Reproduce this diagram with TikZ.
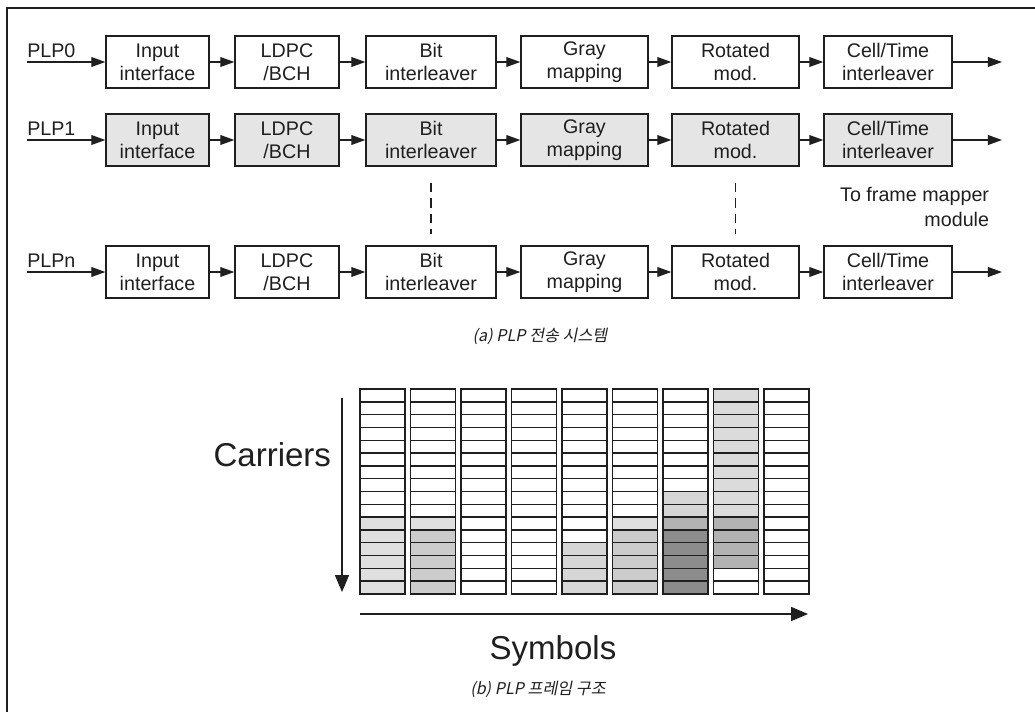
\documentclass[tikz,border=0pt]{standalone}
\usepackage{fontspec}
\setmainfont{Liberation Sans}
\newfontfamily\krfont[FakeSlant=0.2]{Noto Sans CJK KR}
\usetikzlibrary{positioning,arrows.meta}
\definecolor{ink}{gray}{0.12}

\begin{document}
\begin{tikzpicture}[x=0.025cm,y=-0.025cm,
    every node/.style={font=\fontsize{14}{16.5}\selectfont,text=ink},
    blk/.style={draw=ink,line width=0.9pt,minimum height=1.3cm,inner sep=0pt,align=center},
    flow/.style={draw=ink,line width=0.8pt,-{Triangle[length=10pt,width=7pt]}},
    axis/.style={draw=ink,line width=0.8pt,-{Triangle[length=12pt,width=10pt]}},
    cell/.style={draw=ink,line width=1pt},
    captxt/.style={font=\krfont\fontsize{11.5}{13}\selectfont}]
  \useasboundingbox (0,0) rectangle (1035,712);
  \draw[ink,line width=0.9pt] (1035,8) -- (7,8) -- (7,712);

  % PLP chains
  \foreach \r/\y/\fc in {0/62/white, 1/140/black!10, n/272/white} {
    \node[blk,fill=\fc,minimum width=2.575cm] (in\r)   at (157.5,\y) {Input\\interface};
    \node[blk,fill=\fc,minimum width=2.6cm]   (ldpc\r) at (287,\y)   {LDPC\\/BCH};
    \node[blk,fill=\fc,minimum width=3.25cm]  (bil\r)  at (431,\y)   {Bit\\interleaver};
    \node[blk,fill=\fc,minimum width=3.175cm] (gray\r) at (584.5,\y) {Gray\\mapping};
    \node[blk,fill=\fc,minimum width=3.175cm] (rot\r)  at (735.5,\y) {Rotated\\mod.};
    \node[blk,fill=\fc,minimum width=3.2cm]   (ctil\r) at (888,\y)   {Cell/Time\\interleaver};
    \coordinate (src\r) at (27,\y);
    \coordinate (out\r) at (1002,\y);
    \node[anchor=south west,inner sep=0pt] (plp\r) at (27,\y-4) {PLP\r};
    \draw[flow] (src\r) -- (in\r);
    \draw[flow] (in\r) -- (ldpc\r);
    \draw[flow] (ldpc\r) -- (bil\r);
    \draw[flow] (bil\r) -- (gray\r);
    \draw[flow] (gray\r) -- (rot\r);
    \draw[flow] (rot\r) -- (ctil\r);
    \draw[flow] (ctil\r) -- (out\r);
  }
  \draw[ink,line width=0.8pt,dash pattern=on 7pt off 4pt,shorten <=0.4cm,shorten >=0.275cm] (bil1) -- (biln);
  \draw[ink,line width=0.8pt,dash pattern=on 7pt off 4pt,shorten <=0.4cm,shorten >=0.275cm] (rot1) -- (rotn);
  \node[anchor=north east,align=right,font=\fontsize{14}{17.8}\selectfont] (tofm) at (994,182) {To frame mapper\\module};
  \node[captxt] (capa) at (540,336) {(a) PLP 전송 시스템};

  % frame structure
  \foreach \c/\from/\to/\lv in {0/10/15/12, 1/10/10/12, 1/11/15/20, 4/12/15/16, 5/10/10/12, 5/11/15/20,
      6/8/9/16, 6/10/10/30, 6/11/15/45, 7/0/9/14, 7/10/13/30}
    \fill[black!\lv] (360+50.5*\c,389+12.8*\from) rectangle (405+50.5*\c,389+12.8*\to+12.8);
  \foreach \c in {0,...,8}
    \foreach \rr in {0,...,15}
      \draw[cell] (360+50.5*\c,389+12.8*\rr) rectangle ++(45,12.8);
  \coordinate (ctop) at (342,398);
  \coordinate (cbot) at (342,592);
  \draw[axis] (ctop) -- (cbot);
  \node[anchor=east,font=\fontsize{23.5}{26}\selectfont] (carriers) at (336,455) {Carriers};
  \coordinate (sleft) at (360,614);
  \coordinate (sright) at (808,614);
  \draw[axis] (sleft) -- (sright);
  \node[font=\fontsize{23.5}{26}\selectfont] (symbols) at (553,651) {Symbols};
  \node[captxt] (capb) at (538,689) {(b) PLP 프레임 구조};
\end{tikzpicture}
\end{document}
